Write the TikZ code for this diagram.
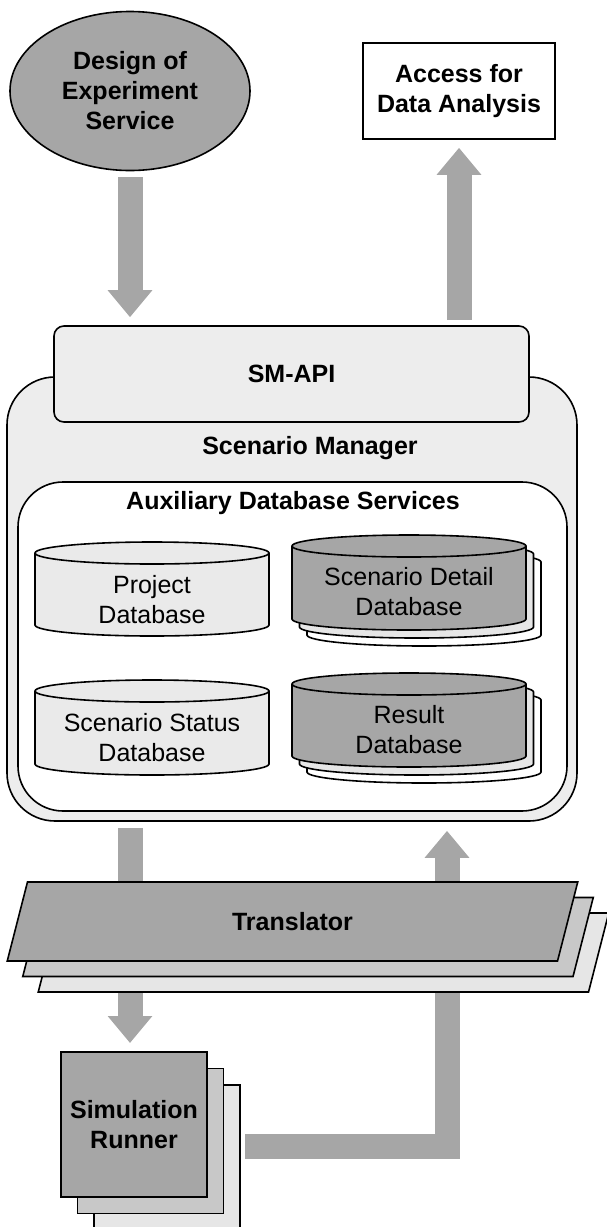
\documentclass[tikz,border=0pt]{standalone}
\usepackage{fontspec}
\setmainfont{Liberation Sans}
\usetikzlibrary{shapes.geometric,shadows,arrows.meta}

\definecolor{boxgray}{HTML}{A6A6A6}
\definecolor{midgray}{HTML}{C8C8C8}
\definecolor{palegray}{HTML}{E6E6E6}
\definecolor{smgray}{HTML}{EDEDED}
\definecolor{dbgray}{HTML}{EAEAEA}

\begin{document}
\begin{tikzpicture}[x=1pt,y=-1pt,line width=1.6pt,
    every node/.style={font=\fontsize{25}{30}\selectfont,align=center},
    heavy/.style={font=\fontsize{25}{30}\selectfont\bfseries},
    flow/.style={draw=boxgray,line width=25pt,-{Triangle[width=43pt,length=27pt]}},
    dbrad/.style={x radius=117pt,y radius=11pt},
    dbface/.style={draw,fill=dbgray},
    dbstack/.style={draw,fill=boxgray,
        general shadow={shadow xshift=15pt,shadow yshift=-16pt,fill=white,draw,line width=1.6pt},
        general shadow={shadow xshift=7.5pt,shadow yshift=-8pt,fill=palegray,draw,line width=1.6pt}},
    stack/.style={general shadow={shadow xshift=2*#1pt,shadow yshift=-2*#1pt,fill=palegray,draw,line width=1.6pt},
        general shadow={shadow xshift=#1pt,shadow yshift=-#1pt,fill=midgray,draw,line width=1.6pt}}]
    \useasboundingbox (0,0) rectangle (606,1227);

    % top: service and data access
    \node[ellipse,draw,fill=boxgray,minimum width=240pt,minimum height=159pt,inner sep=0pt,heavy] (doe) at (130,91) {Design of\\Experiment\\Service};
    \node[draw,fill=white,minimum width=192pt,minimum height=96pt,heavy] (access) at (459,91) {Access for\\Data Analysis};

    % scenario manager
    \node[draw,fill=smgray,rounded corners=48pt,minimum width=570pt,minimum height=444pt] (smgr) at (292,599) {};
    \node[heavy] (smlabel) at (310,448) {Scenario Manager};
    \node[draw,fill=white,rounded corners=45pt,minimum width=549pt,minimum height=329pt] (aux) at (292.5,646.5) {};
    \node[heavy] (auxlabel) at (293,503) {Auxiliary Database Services};
    \node[draw,fill=smgray,rounded corners=10pt,minimum width=475pt,minimum height=96pt,heavy] (api) at (291.5,374) {SM-API};

    % databases
    \draw[dbface] (35,553) -- (35,625) arc[start angle=180,end angle=360,dbrad] -- (269,553) arc[start angle=0,end angle=180,dbrad] -- cycle;
    \draw (35,553) arc[start angle=180,end angle=360,dbrad];
    \draw[dbface] (35,691) -- (35,764) arc[start angle=180,end angle=360,dbrad] -- (269,691) arc[start angle=0,end angle=180,dbrad] -- cycle;
    \draw (35,691) arc[start angle=180,end angle=360,dbrad];
    \draw[dbstack] (292,546) -- (292,619) arc[start angle=180,end angle=360,dbrad] -- (526,546) arc[start angle=0,end angle=180,dbrad] -- cycle;
    \draw (292,546) arc[start angle=180,end angle=360,dbrad];
    \draw[dbstack] (292,684) -- (292,756) arc[start angle=180,end angle=360,dbrad] -- (526,684) arc[start angle=0,end angle=180,dbrad] -- cycle;
    \draw (292,684) arc[start angle=180,end angle=360,dbrad];
    \node (projdb) at (152,600) {Project\\Database};
    \node (statdb) at (152,738) {Scenario Status\\Database};
    \node (detdb) at (409,592) {Scenario Detail\\Database};
    \node (resdb) at (409,730) {Result\\Database};

    % arrows
    \draw[flow,shorten <=6pt,shorten >=8pt] (doe.south) -- (doe.south |- api.north);
    \draw[flow,shorten <=5pt,shorten >=8pt] (access.south |- api.north) -- (access.south);
    \coordinate (bend) at (447,1146);
    \draw[flow,shorten <=6pt,shorten >=9pt] (smgr.south -| doe) -- (doe |- 0,1052);
    \draw[flow,line join=miter,shorten >=9pt] (245,1146) -- (bend) -- (bend |- smgr.south);

    % translator and runner
    \node[trapezium,trapezium left angle=79,trapezium right angle=101,trapezium stretches=true,
        draw,fill=boxgray,minimum width=571pt,minimum height=79pt,stack=15.5,heavy] (trans) at (292.5,921.5) {Translator};
    \node[draw,fill=boxgray,minimum width=146pt,minimum height=145pt,stack=16.5,heavy] (sim) at (134,1124.5) {Simulation\\Runner};
\end{tikzpicture}
\end{document}
